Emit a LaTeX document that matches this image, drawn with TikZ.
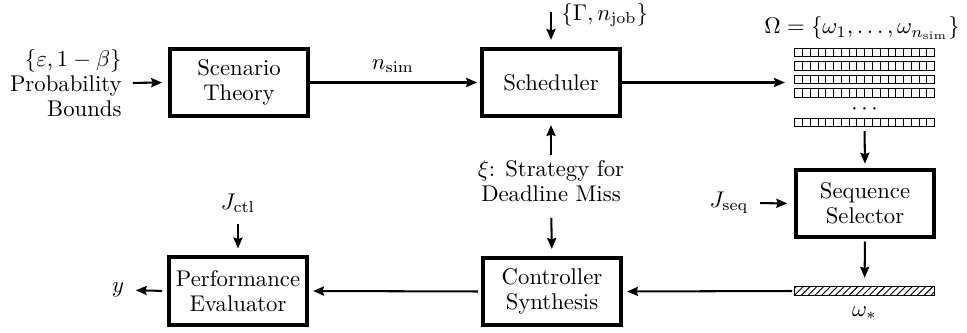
\documentclass[tikz,border=0pt]{standalone}
\usetikzlibrary{arrows.meta,patterns}
\begin{document}
\begin{tikzpicture}[x=0.44pt,y=-0.44pt,
  every node/.style={font=\fontsize{10}{11}\selectfont},
  block/.style={draw,line width=1.85pt,minimum width=60.6pt,minimum height=29.6pt,align=center,inner sep=1pt},
  lbl/.style={inner sep=0pt,align=center},
  arr/.style={line width=0.9pt,-{Stealth[length=4.8pt,width=4pt,inset=0.6pt]}},
  strip/.style={draw,line width=0.45pt,minimum width=61.6pt,minimum height=3.6pt,inner sep=0pt,
    path picture={\foreach \i in {1,...,17}{\draw[line width=0.3pt]
      ([xshift=\i*3.422pt]path picture bounding box.south west) --
      ([xshift=\i*3.422pt]path picture bounding box.north west);}}},
  hstrip/.style={draw,line width=0.5pt,minimum width=61.6pt,minimum height=4.2pt,inner sep=0pt,
    pattern=north east lines}
]
\useasboundingbox (0,0) rectangle (967,333);

% blocks
\node[block] (scen) at (239,82.5) {Scenario\\Theory};
\node[block] (sched) at (551,82.5) {Scheduler};
\node[block] (seq) at (865,203.5) {Sequence\\Selector};
\node[block] (ctrl) at (552,291.5) {Controller\\Synthesis};
\node[block] (perf) at (238,291) {Performance\\Evaluator};

% labels
\node[lbl,align=right,anchor=east] (prob) at (122,83) {$\{\varepsilon, 1-\beta\}$\\Probability\\Bounds};
\node[lbl] (nsim) at (393,66) {$n_{\mathrm{sim}}$};
\node[lbl,anchor=west] (gam) at (561,15) {$\{\Gamma, n_{\mathrm{job}}\}$};
\coordinate (gin) at (551,12);
\node[lbl] (omg) at (862,28) {$\Omega=\{\omega_1,\dots,\omega_{n_{\mathrm{sim}}}\}$};
\node[lbl,inner sep=1pt] (xi) at (551,181) {$\xi$: Strategy for\\Deadline Miss};
\node[lbl] (jctl) at (238,203) {$J_{\mathrm{ctl}}$};
\node[lbl] (jseq) at (729,203) {$J_{\mathrm{seq}}$};
\node[lbl] (yout) at (118,290) {$y$};
\node[lbl] (ostarl) at (864.5,313) {$\omega_*$};

% strips
\node[strip] (s1) at (864.5,52.5) {};
\node[strip] (s2) at (864.5,66) {};
\node[strip] (s3) at (864.5,79.5) {};
\node[strip] (s4) at (864.5,93) {};
\node[lbl] (dots) at (864.5,109) {$\cdots$};
\node[strip] (s5) at (864.5,122.5) {};
\node[hstrip] (ostar) at (864.5,291) {};

% connectors
\draw[arr,shorten <=4.8pt,shorten >=2.6pt] (prob.east) -- (scen.west);
\draw[arr,shorten >=1.3pt] (scen.east) -- (sched.west);
\draw[arr,shorten >=3pt] (gin) -- (sched.north);
\draw[arr,shorten >=4pt] (sched.east) -- (sched.east -| s3.west);
\draw[arr,shorten <=1.8pt,shorten >=1.8pt] (s5.south) -- (seq.north);
\draw[arr,shorten <=5pt,shorten >=3pt] (jseq.east) -- (seq.west);
\draw[arr,shorten <=1pt,shorten >=3.5pt] (seq.south) -- (ostar.north);
\draw[arr,shorten <=0.8pt,shorten >=1.8pt] (ostar.west) -- (ctrl.east);
\draw[arr,shorten <=1.3pt,shorten >=1.8pt] (ctrl.west) -- (perf.east);
\draw[arr,shorten <=2.2pt,shorten >=5pt] (perf.west) -- (yout.east);
\draw[arr,shorten <=4.8pt,shorten >=3pt] (jctl.south) -- (perf.north);
\draw[arr,shorten <=1pt,shorten >=3pt] (xi.north) -- (sched.south);
\draw[arr,shorten <=6pt,shorten >=3pt] (xi.south) -- (ctrl.north);
\end{tikzpicture}
\end{document}
